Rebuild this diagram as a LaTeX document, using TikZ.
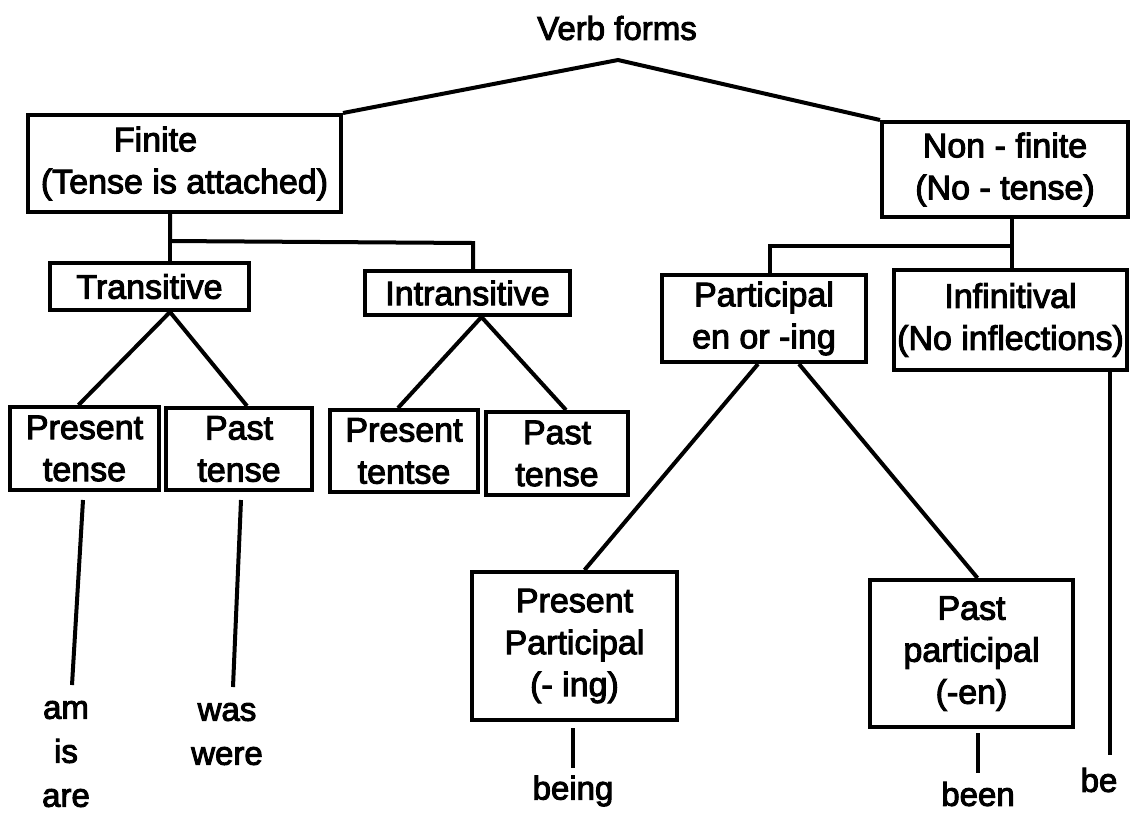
\documentclass[tikz,border=0pt]{standalone}
\usepackage{fontspec}
\setmainfont{Liberation Sans}
\newfontfamily\scanfont{Liberation Sans}[FakeBold=3]
\tikzset{
  box/.style={draw, line width=4pt, inner sep=0pt, align=center,
    font=\scanfont\fontsize{34}{42}\selectfont},
  leaf/.style={inner sep=0pt, align=center, font=\scanfont\fontsize{33}{44}\selectfont},
  conn/.style={line width=4pt}
}
\begin{document}
\begin{tikzpicture}[x=1pt, y=-1pt]
\useasboundingbox (0,0) rectangle (1131,815);
% root
\node[leaf] (root) at (617,28) {Verb forms};
\coordinate (apex) at (618,60);
% level 1
\node[box, minimum width=313pt, minimum height=97pt] (fin) at (184.5,163.5) {Finite\hspace*{58pt}\\(Tense is attached)};
\node[box, minimum width=246pt, minimum height=95pt] (nonfin) at (1005,169.5) {Non - finite\\(No - tense)};
% level 2
\node[box, minimum width=199pt, minimum height=47pt] (trans) at (149.5,286.5) {Transitive};
\node[box, minimum width=205pt, minimum height=44pt] (intrans) at (467.5,293) {Intransitive};
\node[box, minimum width=204pt, minimum height=87pt] (part) at (764,318.5) {Participal\\en or -ing};
\node[box, minimum width=233pt, minimum height=100pt] (inf) at (1010.5,320) {Infinitival\\(No inflections)};
% level 3
\node[box, minimum width=149pt, minimum height=83pt] (prT) at (84.5,448.5) {Present\\tense};
\node[box, minimum width=146pt, minimum height=82pt] (paT) at (239,449) {Past\\tense};
\node[box, minimum width=148pt, minimum height=82pt] (prI) at (404,451) {Present\\tentse};
\node[box, minimum width=142pt, minimum height=83pt] (paI) at (557,453.5) {Past\\tense};
\node[box, minimum width=205pt, minimum height=148pt] (prP) at (574.5,646) {Present\\Participal\\(- ing)};
\node[box, minimum width=203pt, minimum height=147pt] (paP) at (971.5,653.5) {Past\\participal\\(-en)};
% leaves
\node[leaf] (amisare) at (66,754) {am\\is\\are};
\node[leaf] (waswere) at (227,734) {was\\were};
\node[leaf] (being) at (573,791) {being};
\node[leaf] (been) at (978,794) {been};
\node[leaf] (be) at (1099,780) {be};
% root connectors
\draw[conn] (fin.north east) -- (apex) -- (nonfin.north west);
% finite branch
\coordinate (jf) at (170,241);
\coordinate (ji) at (473,243);
\draw[conn] (fin.south -| jf) -- (jf) -- (ji) -- (intrans.north -| ji);
\draw[conn] (jf) -- (trans.north -| jf);
\draw[conn] ([xshift=-6pt]prT.north) -- (trans.south -| jf) -- ([xshift=8pt]paT.north);
\draw[conn] ([xshift=-6pt]prI.north) -- ([xshift=14pt]intrans.south) -- ([xshift=9pt]paI.north);
% non-finite branch
\coordinate (jn) at (1012,246);
\coordinate (jp) at (770,246);
\draw[conn] (nonfin.south -| jn) -- (jn) -- (inf.north -| jn);
\draw[conn] (jn) -- (jp) -- (part.north -| jp);
\draw[conn] ([xshift=-6pt]part.south) -- ([xshift=10pt]prP.north);
\draw[conn] ([xshift=35pt]part.south) -- ([xshift=6pt]paP.north);
% leaf connectors
\coordinate (t1) at (83,500);
\coordinate (t2) at (72,685);
\coordinate (t3) at (241,500);
\coordinate (t4) at (233,687);
\draw[conn] (t1) -- (t2);
\draw[conn] (t3) -- (t4);
\coordinate (g1) at (573,728);
\coordinate (g2) at (573,768);
\draw[conn] (g1) -- (g2);
\coordinate (n1) at (978,733);
\coordinate (n2) at (978,773);
\draw[conn] (n1) -- (n2);
\coordinate (bx) at (1110,755);
\draw[conn] (inf.south -| bx) -- (bx);
\end{tikzpicture}
\end{document}
